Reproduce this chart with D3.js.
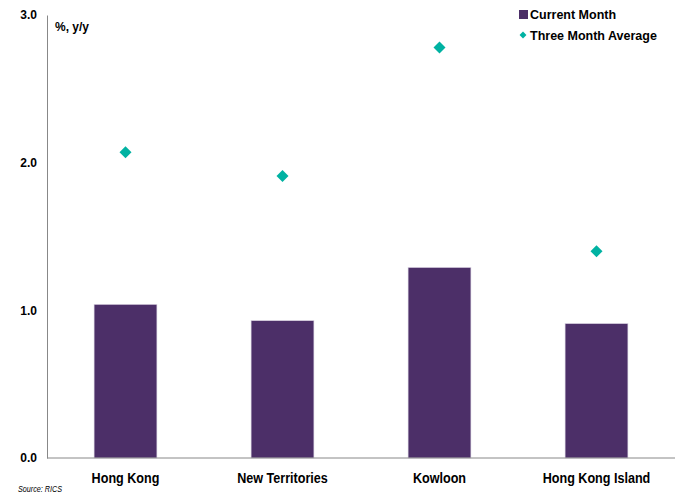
<!DOCTYPE html>
<html><head><meta charset="utf-8">
<script src="https://cdn.jsdelivr.net/npm/d3@7"></script>
<style>body{margin:0;background:#fff}svg{display:block}</style>
</head><body><svg id="c" width="682" height="498"></svg>
<script>
const categories = ["Hong Kong", "New Territories", "Kowloon", "Hong Kong Island"];
const currentMonth = [1.04, 0.93, 1.29, 0.91];
const threeMonthAvg = [2.07, 1.91, 2.78, 1.40];
const yTicks = [0, 1, 2, 3];
const seriesNames = ["Current Month", "Three Month Average"];

const svg = d3.select("#c");
const W = 682, H = 498;
const m = {l: 47, r: 7, t: 15, b: 40};
const x = d3.scaleBand().domain(categories).range([m.l, W - m.r]).paddingInner(0.6).paddingOuter(0.3);
const y = d3.scaleLinear().domain([0, 3]).range([H - m.b, m.t]);
const font = "'Liberation Sans',Arial,sans-serif";
const barColor = "#4c2f68", dColor = "#00b2a2";

svg.selectAll("rect.bar").data(categories).join("rect")
  .attr("x", d => x(d)).attr("width", x.bandwidth())
  .attr("y", (d, i) => y(currentMonth[i])).attr("height", (d, i) => y(0) - y(currentMonth[i]))
  .attr("fill", barColor).attr("stroke", "#d8d0e0").attr("stroke-width", 0.6);

const sym = d3.symbol().type(d3.symbolSquare).size(72);
svg.selectAll("path.pt").data(categories).join("path")
  .attr("transform", (d, i) => `translate(${x(d) + x.bandwidth() / 2},${y(threeMonthAvg[i])}) rotate(45)`)
  .attr("d", sym).attr("fill", dColor);

// axes
const yAx = svg.append("g").attr("transform", `translate(${m.l},0)`)
  .call(d3.axisLeft(y).tickValues(yTicks).tickFormat(d3.format(".1f")).tickSize(0).tickPadding(10));
yAx.select(".domain").attr("stroke", "#888").attr("stroke-width", 1);
yAx.selectAll("text").attr("font-family", font).attr("font-weight", "bold").attr("font-size", 12).attr("fill", "#000");

const xAx = svg.append("g").attr("transform", `translate(0,${y(0)})`)
  .call(d3.axisBottom(x).tickSize(0).tickPadding(15));
xAx.select(".domain").attr("stroke", "#888").attr("stroke-width", 1).attr("d", `M${m.l},0H${W - m.r}`);
xAx.selectAll("text").attr("font-family", font).attr("font-weight", "bold").attr("font-size", 14).attr("fill", "#000")
  .attr("transform", "scale(0.9,1)");

svg.append("text").attr("x", 55).attr("y", 31).text("%, y/y")
  .attr("font-family", font).attr("font-weight", "bold").attr("font-size", 12);

svg.append("text").attr("x", 18).attr("y", 492).text("Source: RICS")
  .attr("font-family", font).attr("font-style", "italic").attr("font-size", 8.5)
  .attr("textLength", 44).attr("lengthAdjust", "spacingAndGlyphs");

// legend
const lg = svg.append("g");
lg.append("rect").attr("x", 519).attr("y", 10).attr("width", 9).attr("height", 9).attr("fill", barColor);
lg.append("path").attr("transform", "translate(523,35) rotate(45)").attr("d", d3.symbol().type(d3.symbolSquare).size(24)).attr("fill", dColor);
lg.selectAll("text.l").data(seriesNames).join("text")
  .attr("x", 530).attr("y", (d, i) => 19 + i * 21).text(d => d)
  .attr("font-family", font).attr("font-weight", "bold").attr("font-size", 12.5);
</script></body></html>
